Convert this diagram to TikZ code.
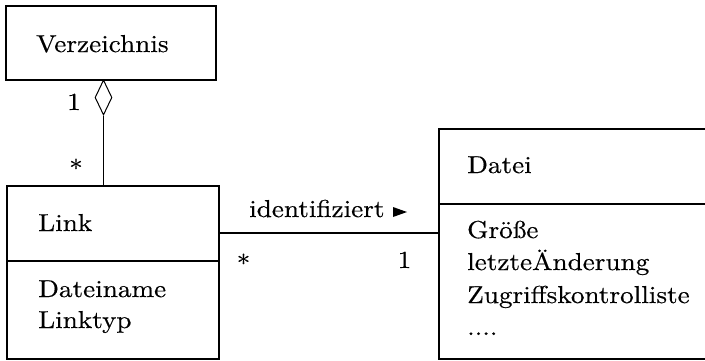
\documentclass[tikz,border=0pt]{standalone}
\usepackage{fontspec}
\setmainfont{lmroman10-regular.otf}[FakeStretch=1.11, FakeBold=0.4]
\usetikzlibrary{shapes.geometric}

\tikzset{
  classbox/.style={draw=black, line width=2pt, inner sep=0pt},
  divider/.style={draw=black, line width=2pt},
  assoc/.style={draw=black, line width=1.5pt},
  aggline/.style={draw=black, line width=1pt},
  agg/.style={draw=black, line width=1pt, fill=white, diamond, inner sep=0pt,
              minimum width=17pt, minimum height=35pt},
  lbl/.style={anchor=base west, inner sep=0pt, font=\fontsize{24.5}{32.5}\selectfont},
  mult/.style={anchor=base, inner sep=0pt, font=\fontsize{24.5}{32.5}\selectfont},
}

\begin{document}
\begin{tikzpicture}[x=1pt, y=-1pt]
  \useasboundingbox (0,0) rectangle (705,360);
  \clip (0,0) rectangle (705,360);

  % class boxes
  \node[classbox, minimum width=210.5pt, minimum height=74pt] (verz) at (110.75,43) {};
  \node[classbox, minimum width=212pt, minimum height=173pt] (link) at (113,272.5) {};
  \node[classbox, minimum width=272pt, minimum height=230.5pt] (datei) at (575,243.75) {};

  % compartment dividers
  \coordinate (linkdiv) at (0,261);
  \coordinate (dateidiv) at (0,203.5);
  \draw[divider] (link.west |- linkdiv) -- (link.east |- linkdiv);
  \draw[divider] (datei.west |- dateidiv) -- (datei.east |- dateidiv);

  % class texts
  \node[lbl] (tverz) at (36,52) {Verzeichnis};
  \node[lbl] (tlink) at (38,231) {Link};
  \node[lbl] (tlink1) at (38,297) {Dateiname};
  \node[lbl] (tlink2) at (38,328) {Linktyp};
  \node[lbl] (tdatei) at (467,173) {Datei};
  \node[lbl] (td1) at (467,238) {Größe};
  \node[lbl] (td2) at (467,270) {letzteÄnderung};
  \node[lbl] (td3) at (467,303) {Zugriffskontrolliste};
  \node[lbl] (td4) at (467,335) {....};

  % aggregation Verzeichnis <>-- Link
  \node[agg] (agg) at (103.5,97.5) {};
  \draw[aggline] (agg.south) -- (agg.south |- link.north);
  \node[mult] (m1) at (74,110) {1};
  \node[mult] (m2) at (76,177) {*};

  % association Link -- Datei
  \coordinate (assocy) at (0,233);
  \draw[assoc] (link.east |- assocy) -- (datei.west |- assocy);
  \node[lbl] (tident) at (249,217) {identifiziert};
  \fill (393,207) -- (407,212) -- (393,217) -- cycle;
  \node[mult] (m3) at (243.5,272) {*};
  \node[mult] (m4) at (404.5,268) {1};
\end{tikzpicture}
\end{document}
